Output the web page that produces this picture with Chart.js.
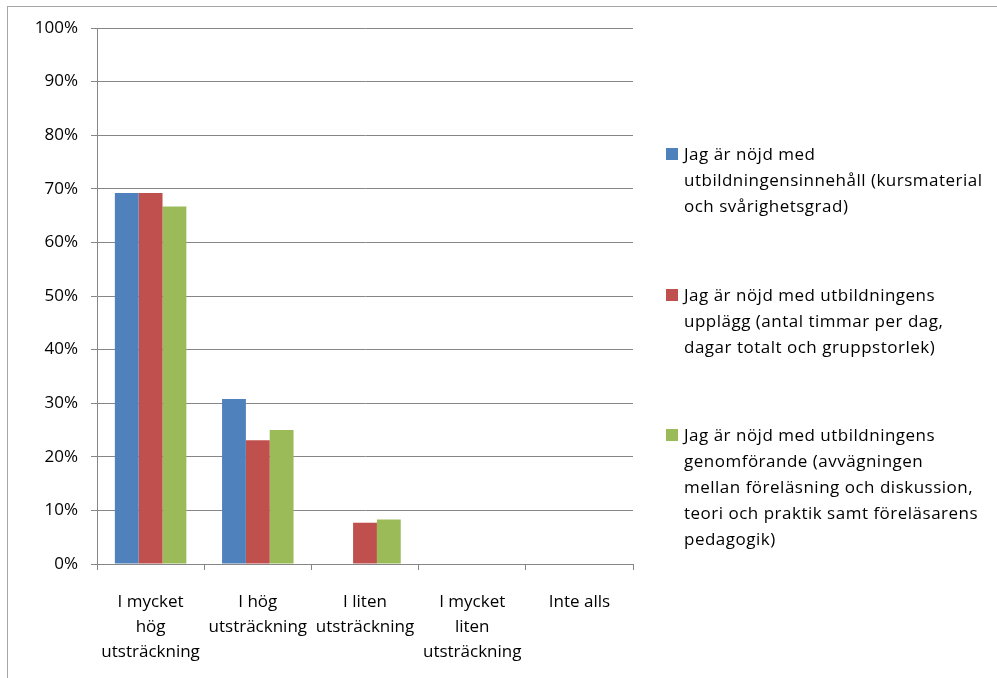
<!DOCTYPE html>
<html>
<head>
<meta charset="utf-8">
<script src="https://cdn.jsdelivr.net/npm/chart.js@4"></script>
<style>
  html, body { margin: 0; padding: 0; background: #fff; overflow: hidden; }
  #wrap { position: relative; width: 997px; height: 678px; }
  #frame { position: absolute; left: 7px; top: 6px; width: 1000px; height: 700px; border: 1px solid #a6a6a6; box-sizing: border-box; }
  canvas { position: absolute; left: 0; top: 0; }
  .leg { position: absolute; left: 666px; font-family: "Open Sans", sans-serif; font-size: 17px; line-height: 26px; color: #000; letter-spacing: 0.5px; }
  .leg .sw { position: absolute; left: 0; top: 7px; width: 12px; height: 12px; }
  .leg .tx { position: absolute; left: 18px; top: 0; white-space: nowrap; }
</style>
</head>
<body>
<div id="wrap">
  <div id="frame"></div>
  <canvas id="c" width="997" height="678"></canvas>
</div>
<script>
const categories = [
  ["I mycket", "hög", "utsträckning"],
  ["I hög", "utsträckning"],
  ["I liten", "utsträckning"],
  ["I mycket", "liten", "utsträckning"],
  "Inte alls"
];
const seriesNames = [
  "Jag är nöjd med utbildningensinnehåll (kursmaterial och svårighetsgrad)",
  "Jag är nöjd med utbildningens upplägg (antal timmar per dag, dagar totalt och gruppstorlek)",
  "Jag är nöjd med utbildningens genomförande (avvägningen mellan föreläsning och diskussion, teori och praktik samt föreläsarens pedagogik)"
];
const legendLines = [
  ["Jag är nöjd med", "utbildningensinnehåll (kursmaterial", "och svårighetsgrad)"],
  ["Jag är nöjd med utbildningens", "upplägg (antal timmar per dag,", "dagar totalt och gruppstorlek)"],
  ["Jag är nöjd med utbildningens", "genomförande (avvägningen", "mellan föreläsning och diskussion,", "teori och praktik samt föreläsarens", "pedagogik)"]
];
const innehall = [69.2, 30.8, 0, 0, 0];
const upplagg = [69.2, 23.1, 7.7, 0, 0];
const genomforande = [66.7, 25.0, 8.3, 0, 0];
const yTicks = [0, 10, 20, 30, 40, 50, 60, 70, 80, 90, 100];

const colors = ["#4F81BD", "#C0504D", "#9BBB59"];
const values = [innehall, upplagg, genomforande];
const legendTops = [141, 282, 422];

// HTML legend
const wrap = document.getElementById('wrap');
legendLines.forEach((lines, i) => {
  const d = document.createElement('div');
  d.className = 'leg';
  d.style.top = legendTops[i] + 'px';
  d.title = seriesNames[i];
  const sw = document.createElement('div');
  sw.className = 'sw';
  sw.style.background = colors[i];
  const tx = document.createElement('div');
  tx.className = 'tx';
  tx.innerHTML = lines.join('<br>');
  d.appendChild(sw); d.appendChild(tx);
  wrap.appendChild(d);
});

const font = { family: '"Open Sans", sans-serif', size: 17 };
new Chart(document.getElementById('c'), {
  type: 'bar',
  data: {
    labels: categories,
    datasets: values.map((v, i) => ({
      label: seriesNames[i],
      data: v,
      backgroundColor: colors[i],
      borderWidth: 0,
      barPercentage: 1.0,
      categoryPercentage: 0.667
    }))
  },
  options: {
    responsive: false,
    animation: false,
    layout: { padding: { left: 0, top: 28, right: 364, bottom: 0 } },
    plugins: { legend: { display: false }, tooltip: { enabled: false } },
    scales: {
      x: {
        afterFit: s => { s.height = 114; },
        grid: { drawOnChartArea: false, drawTicks: true, tickLength: 6, color: '#868686', offset: true },
        border: { color: '#868686', width: 1 },
        ticks: { color: '#000', font: { ...font, lineHeight: '25px' }, padding: 20, maxRotation: 0, autoSkip: false }
      },
      y: {
        min: 0, max: 100,
        afterFit: s => { s.width = 97; },
        afterBuildTicks: s => { s.ticks = yTicks.map(v => ({ value: v })); },
        grid: { color: '#868686', tickLength: 6, drawTicks: true },
        border: { color: '#868686', width: 1 },
        ticks: { color: '#000', font: font, padding: 13, callback: v => v + '%' }
      }
    }
  }
});
</script>
</body>
</html>
